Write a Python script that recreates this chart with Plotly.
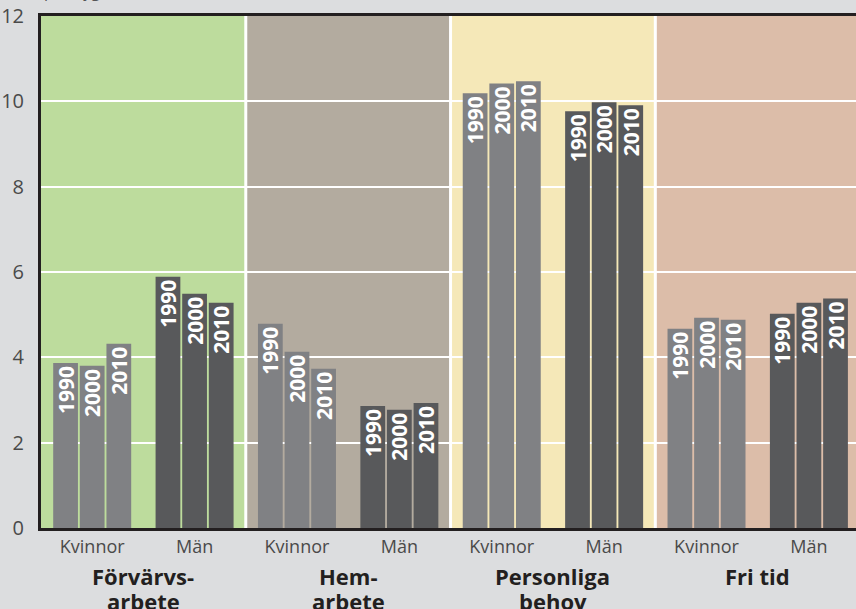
import plotly.graph_objects as go

# time use, hours per day
sections = ["Förvärvs-|arbete", "Hem-|arbete", "Personliga|behov", "Fri tid"]
sexes = ["Kvinnor", "Män"]
years = ["1990", "2000", "2010"]

v1990 = [3.87, 5.89, 4.79, 2.86, 10.19, 9.77, 4.67, 5.02]
v2000 = [3.80, 5.49, 4.13, 2.77, 10.42, 9.98, 4.93, 5.28]
v2010 = [4.32, 5.28, 3.73, 2.93, 10.47, 9.91, 4.88, 5.38]
values = [v1990, v2000, v2010]

section_colors = ["#bddc9d", "#b3ab9f", "#f5e8b8", "#dcbda9"]
sex_colors = {"Kvinnor": "#808184", "Män": "#58595b"}

groups = [s for _ in sections for s in sexes]
xpos = list(range(len(groups)))
bar_colors = [sex_colors[g] for g in groups]

fig = go.Figure()
for year, vals in zip(years, values):
    fig.add_trace(go.Bar(
        x=xpos, y=vals, name=year,
        marker=dict(color=bar_colors, line=dict(width=0)),
        text=[year] * len(vals), textposition="inside",
        insidetextanchor="end", textangle=-90, constraintext="none",
        textfont=dict(family="Open Sans", size=21, color="white", weight="bold"),
        hoverinfo="skip", showlegend=False,
    ))

# section backgrounds and separators
shapes = []
for i, c in enumerate(section_colors):
    shapes.append(dict(type="rect", xref="x", yref="y", x0=2 * i - 0.5, x1=2 * i + 1.5,
                       y0=0, y1=12, fillcolor=c, line=dict(width=0), layer="below"))
for i in range(1, len(sections)):
    shapes.append(dict(type="line", xref="x", yref="y", x0=2 * i - 0.5, x1=2 * i - 0.5,
                       y0=0, y1=12, line=dict(color="white", width=3), layer="below"))

annotations = []
for i, s in enumerate(sections):
    for k, line in enumerate(s.split("|")):
        annotations.append(dict(
            text="<b>" + line + "</b>", xref="x", yref="paper", x=2 * i + 0.5, y=0,
            yanchor="middle", yshift=-48 - 25 * k, showarrow=False,
            font=dict(family="Open Sans", size=22, color="#231f20")))
# axis title, mostly above the visible page
annotations.append(dict(text="Timmar per dygn", xref="paper", yref="paper", x=0.087, y=1,
                        xanchor="right", yanchor="bottom", yshift=12, showarrow=False,
                        font=dict(family="Open Sans", size=16, color="#555555")))

fig.update_layout(
    width=856, height=609,
    margin=dict(l=41, r=0, t=16, b=81),
    paper_bgcolor="#dcdddf", plot_bgcolor="#dcdddf",
    barmode="group", bargap=0.22, bargroupgap=0.07,
    shapes=shapes, annotations=annotations,
    font=dict(family="Open Sans", color="#4a4a4a"),
)
fig.update_xaxes(
    range=[-0.5, 7.46], tickvals=xpos, ticktext=groups, showgrid=False,
    showline=True, linecolor="#231f20", linewidth=3, mirror=True,
    ticks="", tickfont=dict(size=18, color="#4a4a4a"), zeroline=False,
)
fig.update_yaxes(
    range=[0, 12], dtick=2, showgrid=True, gridcolor="white", gridwidth=2,
    showline=True, linecolor="#231f20", linewidth=3, zeroline=False,
    ticks="", ticklabelstandoff=10, tickfont=dict(size=20, color="#4a4a4a"),
)

fig.write_html("out.html", config={"displayModeBar": False},
               post_script="document.body.style.margin='0px';")
